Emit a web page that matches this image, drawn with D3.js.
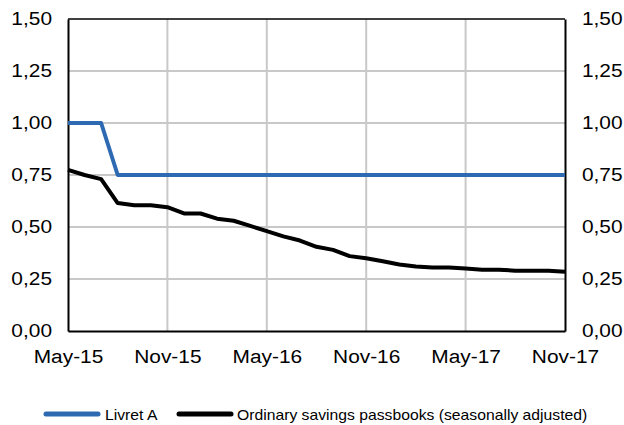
<!DOCTYPE html>
<html><head><meta charset="utf-8">
<script src="https://cdn.jsdelivr.net/npm/d3@7"></script>
<style>body{margin:0;background:#fff}svg{display:block;font-family:"Liberation Sans",Arial,sans-serif}</style>
</head><body><svg id="c" width="624" height="425"></svg>
<script>
const months = ["May-15","Jun-15","Jul-15","Aug-15","Sep-15","Oct-15","Nov-15","Dec-15","Jan-16","Feb-16","Mar-16","Apr-16","May-16","Jun-16","Jul-16","Aug-16","Sep-16","Oct-16","Nov-16","Dec-16","Jan-17","Feb-17","Mar-17","Apr-17","May-17","Jun-17","Jul-17","Aug-17","Sep-17","Oct-17","Nov-17"];
const livretA = [1.00,1.00,1.00,0.75,0.75,0.75,0.75,0.75,0.75,0.75,0.75,0.75,0.75,0.75,0.75,0.75,0.75,0.75,0.75,0.75,0.75,0.75,0.75,0.75,0.75,0.75,0.75,0.75,0.75,0.75,0.75];
const passbooks = [0.775,0.75,0.73,0.615,0.605,0.605,0.595,0.565,0.565,0.54,0.53,0.505,0.48,0.455,0.435,0.405,0.39,0.36,0.35,0.335,0.32,0.31,0.305,0.305,0.30,0.295,0.295,0.29,0.29,0.29,0.285];
const xTickLabels = ["May-15","Nov-15","May-16","Nov-16","May-17","Nov-17"];
const yTicks = [0,0.25,0.5,0.75,1.0,1.25,1.5];
const seriesNames = ["Livret A","Ordinary savings passbooks (seasonally adjusted)"];
const colors = ["#2E6AB1","#000000"];

const svg = d3.select("#c");
const L=68, R=565, T=19, B=331, SX=1.16;
const x = d3.scalePoint().domain(months).range([L,R]);
const y = d3.scaleLinear().domain([0,1.5]).range([B,T]);
const fmt = d => d3.format(".2f")(d).replace(".",",");

// gridlines
const g = svg.append("g");
g.selectAll("line.h").data(yTicks.filter(d=>d>0&&d<1.5)).join("line")
  .attr("x1",L).attr("x2",R).attr("y1",d=>y(d)).attr("y2",d=>y(d))
  .attr("stroke","#c8c8c8").attr("stroke-width",2);
g.selectAll("line.v").data(xTickLabels.slice(1,-1)).join("line")
  .attr("x1",d=>x(d)).attr("x2",d=>x(d)).attr("y1",T).attr("y2",B)
  .attr("stroke","#c8c8c8").attr("stroke-width",2);
svg.append("line").attr("x1",L).attr("x2",R).attr("y1",T).attr("y2",T).attr("stroke","#000").attr("stroke-width",1.5);

// axes
const yl = d3.axisLeft(y).tickValues(yTicks).tickFormat(fmt).tickSize(0).tickPadding(13.8);
const yr = d3.axisRight(y).tickValues(yTicks).tickFormat(fmt).tickSize(0).tickPadding(14.6);
const xb = d3.axisBottom(x).tickValues(xTickLabels).tickSize(0).tickPadding(19);
function style(a){
  a.selectAll("text").attr("font-size",18).attr("fill","#000")
    .attr("font-family","Liberation Sans, Arial, sans-serif")
    .attr("transform",`scale(${SX},1)`);
  a.select(".domain").attr("stroke","#000").attr("stroke-width",2);
}
svg.append("g").attr("transform",`translate(${L},0)`).call(yl).call(style);
svg.append("g").attr("transform",`translate(${R},0)`).call(yr).call(style);
svg.append("g").attr("transform",`translate(0,${B})`).call(xb).call(style);

// lines
const line = d3.line().x((d,i)=>x(months[i])).y(d=>y(d));
[livretA,passbooks].forEach((s,k)=>{
  svg.append("path").datum(s).attr("d",line).attr("fill","none")
    .attr("stroke",colors[k]).attr("stroke-width",4).attr("stroke-linejoin","round");
});

// legend
const leg = [{x0:46,x1:98,tx:105},{x0:179,x1:231,tx:237}];
leg.forEach((p,k)=>{
  svg.append("line").attr("x1",p.x0).attr("x2",p.x1).attr("y1",414).attr("y2",414)
    .attr("stroke",colors[k]).attr("stroke-width",5).attr("stroke-linecap","round");
  svg.append("text").attr("transform",`translate(${p.tx},420) scale(1.14,1)`)
    .attr("font-size",13.8).text(seriesNames[k]);
});
</script></body></html>
